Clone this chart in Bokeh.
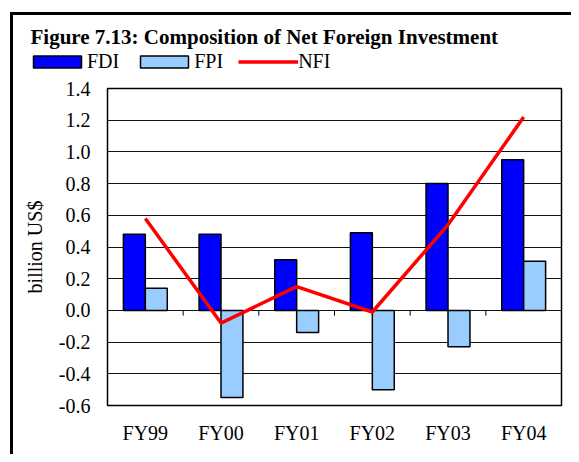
from bokeh.plotting import figure
from bokeh.layouts import column
from bokeh.models import (Range1d, FactorRange, FixedTicker, PrintfTickFormatter, Legend,
                          LegendItem, ColumnDataSource, Label)
from bokeh.transform import dodge
from bokeh.embed import file_html
from bokeh.resources import INLINE

# ---- data ----
categories = ["FY99", "FY00", "FY01", "FY02", "FY03", "FY04"]
fdi = [0.48, 0.48, 0.32, 0.49, 0.80, 0.95]
fpi = [0.14, -0.55, -0.14, -0.50, -0.23, 0.31]
nfi = [0.58, -0.08, 0.15, -0.01, 0.54, 1.22]
y_ticks = [-0.6, -0.4, -0.2, 0.0, 0.2, 0.4, 0.6, 0.8, 1.0, 1.2, 1.4]
series_names = ["FDI", "FPI", "NFI"]
title_text = "Figure 7.13: Composition of Net Foreign Investment"
y_label = "billion US$"

FONT = "Liberation Serif"
C_FDI, C_FPI, C_NFI = "#0000FF", "#99CCFF", "#FF0000"
W = 558
HT = 60            # header (title + legend) height
HM = 379           # main chart height
FL, FT, FR, FB = 94, 13, 10, 49
bw = 0.29

src = ColumnDataSource(dict(cat=categories, fdi=fdi, fpi=fpi, nfi=nfi))

# ---------------- header: title + legend ----------------
head = figure(width=W, height=HT, x_range=FactorRange(*categories), y_range=Range1d(0, 1),
              x_axis_type=None, y_axis_type=None, output_backend="svg",
              toolbar_location=None, min_border=0)
head.min_border_left = head.min_border_right = head.min_border_top = head.min_border_bottom = 0
head.grid.visible = False
head.outline_line_color = None
head.background_fill_color = "white"
head.border_fill_color = "white"

head.add_layout(Label(x=17, y=HT - 21.5, x_units="screen", y_units="screen",
                      text=title_text, text_font=FONT, text_font_style="bold",
                      text_font_size="21px", text_color="black",
                      text_baseline="alphabetic", text_align="left"))

# legend proxies (same data, not drawn in the header)
h_fdi = head.vbar(x=dodge("cat", -bw / 2, range=head.x_range), top="fdi", bottom=0, width=bw,
                  source=src, fill_color=C_FDI, line_color="black", line_width=1.5,
                  visible=False)
h_fpi = head.vbar(x=dodge("cat", bw / 2, range=head.x_range), top="fpi", bottom=0, width=bw,
                  source=src, fill_color=C_FPI, line_color="black", line_width=1.5,
                  visible=False)
h_nfi = head.line(x="cat", y="nfi", source=src, line_color=C_NFI, line_width=3.5,
                  visible=False)
legend = Legend(items=[LegendItem(label=series_names[0], renderers=[h_fdi]),
                       LegendItem(label=series_names[1], renderers=[h_fpi]),
                       LegendItem(label=series_names[2], renderers=[h_nfi])],
                orientation="horizontal", location=(14, 2),
                glyph_width=60, glyph_height=15, label_standoff=0, spacing=15,
                padding=0, margin=0, border_line_color=None, background_fill_alpha=0,
                inactive_fill_alpha=0,
                label_text_font=FONT, label_text_font_size="20px",
                label_text_color="black")
head.add_layout(legend, "center")

# ---------------- main chart ----------------
bnd = ColumnDataSource(dict(cat=categories[:-1], y0=[0.0] * 5, y1=[-0.033] * 5))

p = figure(x_range=categories, y_range=Range1d(-0.6, 1.4), width=W, height=HM,
           output_backend="svg", toolbar_location=None,
           min_border_left=FL, min_border_top=FT, min_border_right=FR, min_border_bottom=FB)
p.outline_line_color = "black"
p.outline_line_width = 1.5
p.background_fill_color = "white"
p.border_fill_color = "white"

p.xgrid.grid_line_color = None
p.ygrid.grid_line_color = "#111111"
p.ygrid.grid_line_width = 1
p.ygrid.ticker = FixedTicker(ticks=y_ticks)

p.vbar(x=dodge("cat", -bw / 2, range=p.x_range), top="fdi", bottom=0, width=bw,
       source=src, fill_color=C_FDI, line_color="black", line_width=1.5)
p.vbar(x=dodge("cat", bw / 2, range=p.x_range), top="fpi", bottom=0, width=bw,
       source=src, fill_color=C_FPI, line_color="black", line_width=1.5)
p.segment(x0=dodge("cat", 0.5, range=p.x_range), x1=dodge("cat", 0.5, range=p.x_range),
          y0="y0", y1="y1", source=bnd, line_color="black", line_width=1)
p.line(x="cat", y="nfi", source=src, line_color=C_NFI, line_width=3.5)

yax = p.yaxis[0]
yax.ticker = FixedTicker(ticks=y_ticks)
yax.formatter = PrintfTickFormatter(format="%.1f")
yax.major_tick_out = 0
yax.major_tick_in = 0
yax.minor_tick_line_color = None
yax.axis_line_color = None
yax.major_label_standoff = 17
yax.major_label_text_font = FONT
yax.major_label_text_font_style = "normal"
yax.major_label_text_font_size = "20px"
yax.major_label_text_color = "black"
yax.axis_label = y_label
yax.axis_label_text_font = FONT
yax.axis_label_text_font_style = "normal"
yax.axis_label_text_font_size = "20px"
yax.axis_label_text_color = "black"
yax.axis_label_standoff = 10

xax = p.xaxis[0]
xax.major_tick_line_color = None
xax.axis_line_color = None
xax.major_label_standoff = 10
xax.major_label_text_font = FONT
xax.major_label_text_font_style = "normal"
xax.major_label_text_font_size = "20px"
xax.major_label_text_color = "black"

# keep the header's frame independent of the chart's frame
for fig in (head, p):
    try:
        fig.frame_align = False
    except Exception:
        pass

layout = column(head, p, spacing=0)
layout.styles = {"margin-left": "10px", "margin-top": "12px",
                 "border-left": "3px solid black", "border-top": "3px solid black"}

open("out.html", "w").write(file_html(layout, INLINE))
